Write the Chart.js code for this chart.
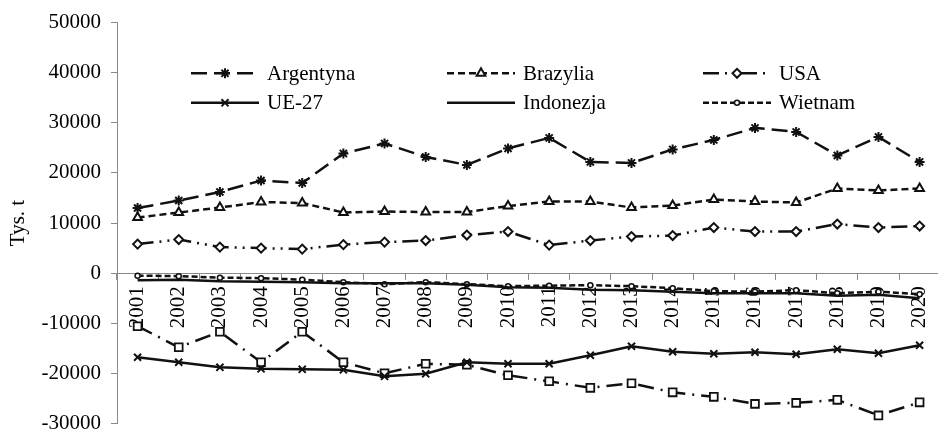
<!DOCTYPE html>
<html><head><meta charset="utf-8">
<script src="https://cdn.jsdelivr.net/npm/chart.js@4/dist/chart.umd.min.js"></script>
<style>
html,body{margin:0;padding:0;overflow:hidden;background:#fff;width:938px;height:434px;}
#wrap{position:relative;width:952px;height:446px;}
</style></head><body>
<div id="wrap"><canvas id="c" width="952" height="446"></canvas></div>
<script>
const years = ['2001','2002','2003','2004','2005','2006','2007','2008','2009','2010','2011','2012','2013','2014','2015','2016','2017','2018','2019','2020'];
const yTicks = [-30000,-20000,-10000,0,10000,20000,30000,40000,50000];
const argentyna = [13000,14500,16200,18500,18000,23900,25900,23200,21600,24900,27000,22200,22000,24700,26600,29000,28200,23500,27200,22200];
const brazylia = [11100,12100,13100,14200,14000,12100,12300,12200,12200,13400,14300,14300,13100,13500,14700,14300,14100,16900,16500,16900];
const usa = [5800,6700,5200,5000,4800,5700,6200,6500,7600,8300,5600,6500,7300,7500,9100,8300,8300,9800,9100,9400];
const ue27 = [-16800,-17800,-18800,-19100,-19200,-19300,-20600,-20100,-17800,-18100,-18100,-16400,-14600,-15700,-16100,-15800,-16200,-15200,-16000,-14400];
const indonezja = [-1400,-1300,-1600,-1700,-1800,-2000,-2000,-2000,-2300,-2800,-2900,-3300,-3400,-3700,-4000,-4000,-4000,-4500,-4300,-5000];
const wietnam = [-500,-600,-900,-1000,-1300,-1800,-2200,-1800,-2200,-2600,-2500,-2400,-2600,-3000,-3600,-3700,-3400,-4000,-3700,-4200];
const chiny = [-10600,-14800,-11700,-17800,-11700,-17800,-20000,-18100,-18300,-20400,-21600,-22900,-22000,-23800,-24700,-26100,-25900,-25300,-28400,-25800];

const FONT = {family:'"Liberation Serif", "Times New Roman", serif', size:21};
const INK = '#111';
const AXIS = '#8a8a8a';

function ds(label, data, dash, style, radius, inLegend, extra){
  return Object.assign({
    label, data, inLegend,
    borderColor: INK, backgroundColor: '#fff',
    borderWidth: 2.5, borderDash: dash,
    pointStyle: style, pointRadius: radius, pointBorderWidth: 2,
    pointBorderColor: INK, pointBackgroundColor: '#fff',
    tension: 0, fill: false
  }, extra||{});
}

const datasets = [
  ds('Argentyna', argentyna, [16,7], 'star', 5, true),
  ds('Brazylia', brazylia, [7,4], 'triangle', 5, true),
  ds('USA', usa, [16,6,2,6,2,6], 'rectRot', 4.5, true),
  ds('UE-27', ue27, [], 'crossRot', 5, true),
  ds('Indonezja', indonezja, [], 'circle', 0, true),
  ds('Wietnam', wietnam, [6,3], 'circle', 2.5, true, {pointBorderWidth:1.5}),
  ds('Chiny', chiny, [16,7,2,7], 'rect', 5.5, false, {pointBorderWidth:1.8})
];

const manualLegend = {
  id:'manualLegend',
  afterDatasetsDraw(chart){
    const ctx = chart.ctx;
    const left = chart.chartArea.left, top = chart.chartArea.top;
    const items = chart.data.datasets.filter(d => d.inLegend);
    items.forEach((d,k) => {
      const col = k % 3, row = Math.floor(k/3);
      const x0 = left + 74 + col*256;
      const y = top + 50.6 + row*29.5;
      const len = 68;
      ctx.save();
      ctx.strokeStyle = d.borderColor;
      ctx.lineWidth = d.borderWidth;
      ctx.setLineDash(d.borderDash || []);
      ctx.beginPath(); ctx.moveTo(x0, y); ctx.lineTo(x0+len, y); ctx.stroke();
      ctx.setLineDash([]);
      if (d.pointRadius > 0) {
        ctx.fillStyle = d.pointBackgroundColor;
        ctx.strokeStyle = d.pointBorderColor;
        ctx.lineWidth = d.pointBorderWidth;
        Chart.helpers.drawPoint(ctx, {pointStyle:d.pointStyle, radius:d.pointRadius, borderWidth:d.pointBorderWidth, rotation:0}, x0+len/2, y);
      }
      ctx.fillStyle = '#000';
      ctx.font = FONT.size + 'px ' + FONT.family;
      ctx.textBaseline = 'middle';
      ctx.textAlign = 'left';
      ctx.fillText(d.label, x0 + 76, y + 1);
      ctx.restore();
    });
  }
};

new Chart(document.getElementById('c'), {
  type:'line',
  data:{labels: years, datasets},
  options:{
    responsive:false, animation:false, devicePixelRatio:1,
    layout:{padding:{left:0, top:22.7, right:1.6, bottom:20}},
    plugins:{legend:{display:false}, tooltip:{enabled:false}},
    scales:{
      x:{
        type:'category', position:{y:0}, offset:true,
        grid:{offset:true, drawOnChartArea:false, drawTicks:true, tickLength:6, color:AXIS, lineWidth:1},
        border:{display:true, color:AXIS, width:1},
        ticks:{minRotation:90, maxRotation:90, autoSkip:false, padding:7, font:FONT, color:'#000'}
      },
      y:{
        min:-30000, max:50000,
        afterBuildTicks(s){ s.ticks = yTicks.map(v => ({value:v})); },
        afterFit(s){ s.width = 117; },
        ticks:{padding:10, font:FONT, color:'#000', callback:v => String(v)},
        grid:{drawOnChartArea:false, drawTicks:true, tickLength:6, color:AXIS},
        border:{display:true, color:AXIS, width:1},
        title:{display:true, text:'Tys. t', font:FONT, color:'#000', padding:{top:6, bottom:0}}
      }
    }
  },
  plugins:[manualLegend]
});
</script>
</body></html>
